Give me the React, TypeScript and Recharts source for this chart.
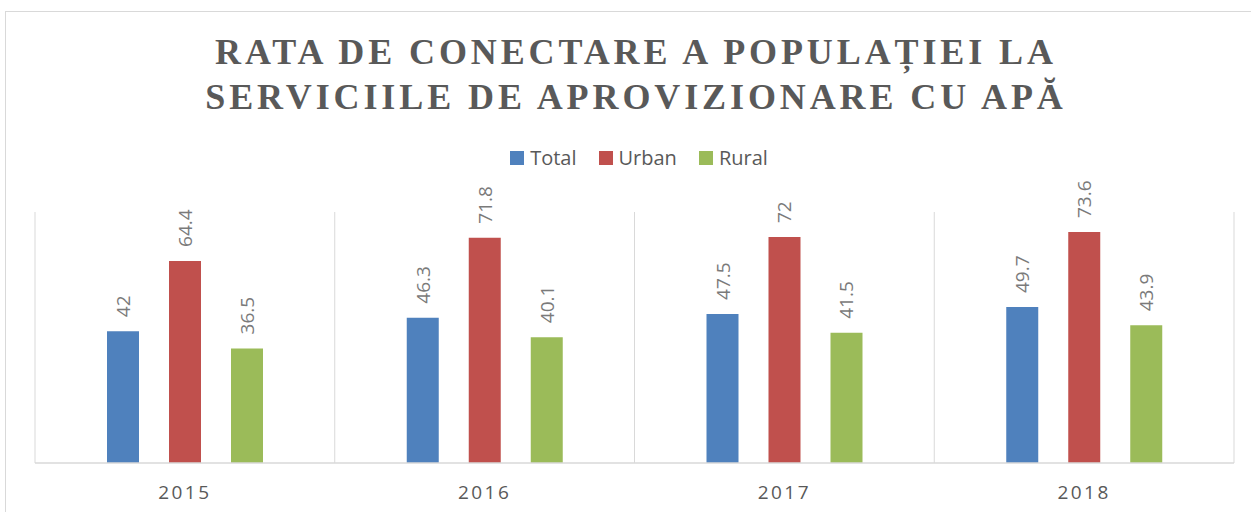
import React from "react";
import { BarChart, Bar, XAxis, YAxis, CartesianGrid, LabelList } from "recharts";

const years = ["2015", "2016", "2017", "2018"];
const totalValues = [42, 46.3, 47.5, 49.7];
const urbanValues = [64.4, 71.8, 72, 73.6];
const ruralValues = [36.5, 40.1, 41.5, 43.9];

const SERIES = [
  { key: "total", name: "Total", color: "#4f81bd" },
  { key: "urban", name: "Urban", color: "#c0504d" },
  { key: "rural", name: "Rural", color: "#9bbb59" },
];

const TEXT = "#595959";
const GRID = "#d9d9d9";
const FONT = "'Open Sans', 'Liberation Sans', sans-serif";

const data = years.map((year, i) => ({
  year,
  total: totalValues[i],
  urban: urbanValues[i],
  rural: ruralValues[i],
}));

function ValueLabel(props: any) {
  const { x, y, width, value } = props;
  const cx = x + width / 2;
  const ty = y - 14;
  return (
    <text
      x={cx}
      y={ty}
      transform={`rotate(-90, ${cx}, ${ty})`}
      textAnchor="start"
      dominantBaseline="central"
      fill="#7a7a7a"
      fontSize={19}
      fontFamily={FONT}
    >
      {value}
    </text>
  );
}

function YearTick(props: any) {
  const { x, y, payload } = props;
  return (
    <text
      x={x}
      y={y + 29}
      textAnchor="middle"
      dominantBaseline="central"
      fill={TEXT}
      fontSize={19}
      fontFamily={FONT}
      letterSpacing={2.5}
    >
      {payload.value}
    </text>
  );
}

export default function App() {
  return (
    <div
      style={{
        position: "fixed",
        left: 0,
        top: 0,
        width: 1251,
        height: 512,
        overflow: "hidden",
        background: "#fff",
      }}
    >
      <div
        style={{
          position: "absolute",
          left: 5,
          top: 11,
          width: 1300,
          height: 600,
          border: `1px solid ${GRID}`,
        }}
      />

      <div
        style={{
          position: "absolute",
          left: 0,
          top: 30,
          width: 1272,
          textAlign: "center",
          fontFamily: "'Liberation Serif', 'DejaVu Serif', serif",
          fontWeight: "bold",
          fontSize: 36,
          lineHeight: "45px",
          letterSpacing: 3.9,
          color: TEXT,
        }}
      >
        RATA DE CONECTARE A POPULAȚIEI LA
        <br />
        SERVICIILE DE APROVIZIONARE CU APĂ
      </div>

      <div
        style={{
          position: "absolute",
          left: 0,
          top: 145,
          width: 1278,
          display: "flex",
          justifyContent: "center",
          gap: 22,
          fontFamily: FONT,
          fontSize: 20,
          color: TEXT,
          lineHeight: "26px",
        }}
      >
        {SERIES.map((s) => (
          <span key={s.key} style={{ display: "flex", alignItems: "center", gap: 6 }}>
            <span style={{ width: 14, height: 14, background: s.color, display: "inline-block" }} />
            {s.name}
          </span>
        ))}
      </div>

      <div style={{ position: "absolute", left: 0, top: 0 }}>
        <BarChart
          width={1251}
          height={512}
          data={data}
          margin={{ top: 212, right: 17, bottom: 19, left: 35 }}
          barGap={30}
          barSize={32}
        >
          <CartesianGrid
            horizontal={false}
            stroke={GRID}
            verticalCoordinatesGenerator={({ offset }: any) =>
              Array.from({ length: years.length + 1 }, (_, i) => offset.left + (i * offset.width) / years.length)
            }
          />
          <XAxis
            dataKey="year"
            height={30}
            axisLine={{ stroke: GRID, strokeWidth: 1.5 }}
            tickLine={false}
            tickSize={0}
            tickMargin={0}
            tick={<YearTick />}
            interval={0}
          />
          <YAxis hide domain={[0, 80]} />
          {SERIES.map((s) => (
            <Bar key={s.key} dataKey={s.key} name={s.name} fill={s.color} isAnimationActive={false}>
              <LabelList dataKey={s.key} content={<ValueLabel />} />
            </Bar>
          ))}
        </BarChart>
      </div>
    </div>
  );
}
